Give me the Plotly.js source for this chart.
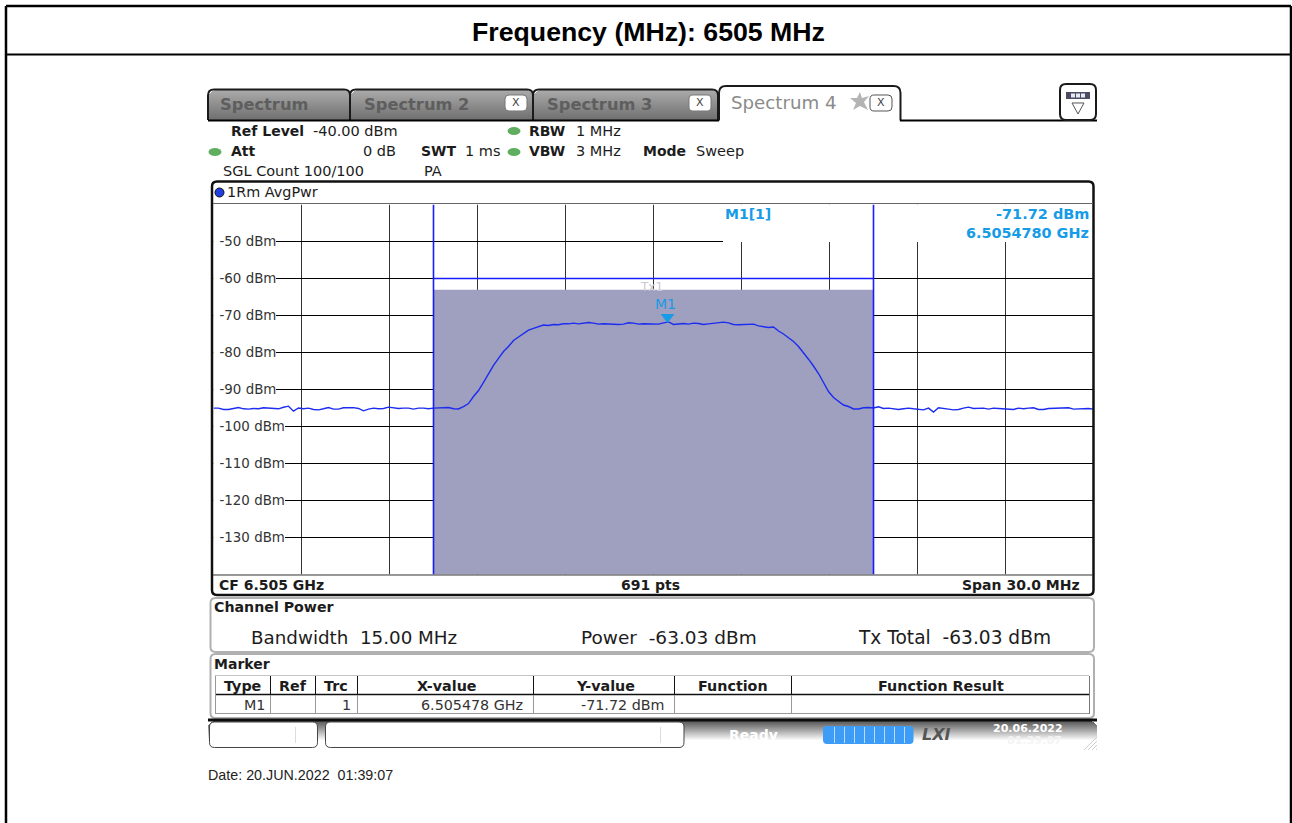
<!DOCTYPE html>
<html>
<head>
<meta charset="utf-8">
<script src="https://cdn.plot.ly/plotly-3.0.1.min.js"></script>
<style>html,body{margin:0;padding:0;background:#fff;overflow:hidden}#chart{width:1292px;height:823px}</style>
</head>
<body>
<div id="chart"></div>
<script>
// ---- Data ----
var centerMHz = 6505;
var spanMHz = 30;
var refLevel = -40;
var channelBandwidthMHz = 15;
var channelPowerDbm = -63.03;
var limitLineDbm = -60;
var markerFreqMHz = 6505.478;
var markerLevelDbm = -71.72;
var levelTicks = [-50, -60, -70, -80, -90, -100, -110, -120, -130];
var levelTickLabels = ['-50 dBm', '-60 dBm', '-70 dBm', '-80 dBm', '-90 dBm', '-100 dBm', '-110 dBm', '-120 dBm', '-130 dBm'];
var freqGridMHz = [6493, 6496, 6499, 6502, 6505, 6508, 6511, 6514, 6517];

var floorLeft = [-95.04,-95.04,-95.4,-95.4,-95.13,-94.86,-95.22,-95.3,-95.13,-95.22,-94.95,-95.04,-95.3,-95.22,-94.8,-94.5,-95.85,-95.0,-95.2,-95.04,-95.4,-95.5,-95.2,-94.86,-95.3,-95.3,-94.95,-94.95,-94.9,-95.13,-95.76,-95.3,-95.04,-95.22,-95.13,-94.77,-94.95,-95.13,-95.04,-95.04,-95.3,-95.04,-95.04,-95.22,-95.04];
var riseEdge = [-94.95,-94.9,-94.86,-95.2,-95.27,-94.6,-93.8,-91.9,-90.27,-88.1,-85.68,-83.5,-81.6,-79.73,-78.38,-76.76,-75.8,-74.86,-73.97,-73.5,-73.1,-72.57,-72.7,-72.43,-72.5];
var plateau = [-72.25,-72.25,-72.07,-72.25,-71.98,-71.9,-72.07,-72.34,-72.25,-72.34,-72.25,-72.43,-72.34,-71.98,-72.07,-72.34,-72.25,-72.34,-72.25,-72.34,-71.98,-71.72,-72.43,-72.34,-72.16,-72.34,-72.07,-72.16,-72.43,-72.25,-72.16,-72.07,-71.8,-71.98,-72.43,-72.5,-72.43,-72.25,-72.34,-72.8,-72.97];
var fallEdge = [-73.24,-73.1,-74.19,-75.0,-76.08,-77.03,-78.38,-80.0,-81.81,-83.65,-85.68,-88.1,-90.54,-92.16,-93.24,-94.19,-94.6,-95.27,-95.27,-94.92,-94.86,-95.0];
var floorRight = [-94.68,-95.13,-95.04,-95.22,-95.4,-95.22,-95.04,-95.22,-95.3,-95.5,-95.04,-96.1,-94.95,-95.22,-95.3,-95.5,-95.4,-95.04,-94.77,-95.13,-95.13,-95.04,-95.3,-95.04,-95.13,-95.22,-95.3,-95.4,-95.04,-95.22,-95.04,-94.95,-95.4,-95.4,-95.13,-95.04,-94.95,-94.95,-94.95,-95.3,-95.22,-95.13,-95.13,-95.3];

var tabNames = ['Spectrum', 'Spectrum 2', 'Spectrum 3', 'Spectrum 4'];
var tableHeaders = ['Type', 'Ref', 'Trc', 'X-value', 'Y-value', 'Function', 'Function Result'];
var tableRow = ['M1', '1', '6.505478 GHz', '-71.72 dBm'];

// ---- Geometry ----
var W = 1292, H = 823;
var plotL = 213.5, plotR = 1093.5, plotT = 204.5, plotB = 574.5;
var fMin = centerMHz - spanMHz / 2, fMax = centerMHz + spanMHz / 2;
var levels = floorLeft.concat(riseEdge, plateau, fallEdge, floorRight);
var freqs = levels.map(function (_, i) { return fMin + i * spanMHz / (levels.length - 1); });
function pxToF(px) { return fMin + (px - plotL) * spanMHz / (plotR - plotL); }
function pyToL(py) { return refLevel - (py - plotT) * 100 / (plotB - plotT); }
function X(p) { return +(p / W).toFixed(5); }
function Y(p) { return +(1 - p / H).toFixed(5); }

var shapes = [], notes = [];
var SANS = 'DejaVu Sans';
var ARIAL = 'Liberation Sans';
var INK = '#1c1c1c', CYAN = '#169be6';

function rect(x0, y0, x1, y1, fill, lineColor, lineW, layer) {
  shapes.push({type: 'rect', xref: 'paper', yref: 'paper', x0: X(x0), x1: X(x1), y0: Y(y0), y1: Y(y1),
    fillcolor: fill || 'rgba(0,0,0,0)', line: {color: lineColor || 'rgba(0,0,0,0)', width: lineW || 0}, layer: layer || 'above'});
}
function hv(x0, y0, x1, y1, color, w) {
  shapes.push({type: 'line', xref: 'paper', yref: 'paper', x0: X(x0), x1: X(x1), y0: Y(y0), y1: Y(y1),
    line: {color: color, width: w || 1}, layer: 'above'});
}
function rr(x0, y0, x1, y1, r, fill, color, w, bottomOpen) {
  var P = function (a, b) { return X(a) + ',' + Y(b); };
  var d;
  if (bottomOpen) {
    d = 'M' + P(x0, y1) + 'L' + P(x0, y0 + r) + 'Q' + P(x0, y0) + ' ' + P(x0 + r, y0) + 'L' + P(x1 - r, y0) + 'Q' + P(x1, y0) + ' ' + P(x1, y0 + r) + 'L' + P(x1, y1);
  } else {
    d = 'M' + P(x0 + r, y0) + 'L' + P(x1 - r, y0) + 'Q' + P(x1, y0) + ' ' + P(x1, y0 + r) + 'L' + P(x1, y1 - r) + 'Q' + P(x1, y1) + ' ' + P(x1 - r, y1) + 'L' + P(x0 + r, y1) + 'Q' + P(x0, y1) + ' ' + P(x0, y1 - r) + 'L' + P(x0, y0 + r) + 'Q' + P(x0, y0) + ' ' + P(x0 + r, y0) + 'Z';
  }
  shapes.push({type: 'path', xref: 'paper', yref: 'paper', path: d, fillcolor: fill || 'rgba(0,0,0,0)',
    line: {color: color || 'rgba(0,0,0,0)', width: w === undefined ? 1 : w}, layer: 'above'});
}
function grad(x0, y0, x1, y1, c0, c1) {
  var n = y1 - y0;
  for (var i = 0; i < n; i++) {
    var t = n > 1 ? i / (n - 1) : 0;
    var c = 'rgb(' + [0, 1, 2].map(function (k) { return Math.round(c0[k] + (c1[k] - c0[k]) * t); }).join(',') + ')';
    var inset = i === 0 ? 5 : i === 1 ? 3 : i === 2 ? 2 : i === 3 ? 1 : 0;
    rect(x0 + inset, y0 + i, x1 - inset, y0 + i + 1, c);
  }
}
function txt(s, x, y, anchor, size, opt) {
  opt = opt || {};
  var t = opt.bold ? '<b>' + s + '</b>' : s;
  if (opt.italic) t = '<i>' + t + '</i>';
  notes.push({text: t, xref: 'paper', yref: 'paper', x: X(x), y: Y(y),
    xanchor: anchor, yanchor: 'middle', showarrow: false, borderpad: 0,
    font: {family: opt.family || SANS, size: size, color: opt.color || INK}});
}

// ---- Page frame and heading ----
hv(6, 6, 1291, 6, '#000', 2.5);
hv(6, 6, 6, H, '#000', 2.5);
hv(1291, 6, 1291, H, '#000', 2.5);
hv(6, 54.5, 1291, 54.5, '#000', 2);
txt('Frequency (MHz): 6505 MHz', 649, 32, 'center', 26.7, {bold: true, family: ARIAL, color: '#000'});

// ---- Tabs ----
var tabEdges = [[208, 350], [350, 533], [533, 718]];
tabEdges.forEach(function (t, i) {
  grad(t[0] + 1, 90, t[1], 120, [170, 170, 170], [112, 112, 112]);
  rr(t[0], 89.5, t[1], 120, 6, null, '#1a1a1a', 2, true);
  txt(tabNames[i], t[0] + (i === 0 ? 11 : 13), 104, 'left', 16.3, {color: '#5e5e5e', bold: true});
});
hv(208, 120.5, 719, 120.5, '#000', 2);
rr(719, 86, 900.5, 120.5, 7, '#ffffff', '#1a1a1a', 2, true);
hv(900, 120.5, 1097, 120.5, '#000', 2);
txt(tabNames[3], 730, 103, 'left', 18.2, {color: '#8a8a8a'});
[[505, 527, 103], [689, 711, 103], [870, 892, 103]].forEach(function (b) {
  rr(b[0], b[2] - 8, b[1], b[2] + 8, 4, '#ffffff', b[0] === 870 ? '#555' : '#777', 1);
  txt('X', (b[0] + b[1]) / 2, b[2], 'center', 11, {color: '#444'});
});
shapes.push({type: 'path', xref: 'paper', yref: 'paper', layer: 'above', fillcolor: '#b4b4b4', line: {width: 0},
  path: (function () {
    var pts = [[860, 92], [862, 98], [869, 96], [864, 102], [868, 110], [860, 106], [853, 110], [856, 103], [850, 98], [857, 98]];
    return 'M' + pts.map(function (p) { return X(p[0]) + ',' + Y(p[1]); }).join('L') + 'Z';
  })()});
rr(1060, 84, 1096, 120, 6, '#ffffff', '#1a1a1a', 2);
rect(1066, 92, 1090, 99, '#4b4b63');
[1071, 1076, 1081].forEach(function (x) { rect(x, 93.5, x + 4, 97.5, '#e8e8f0'); });
shapes.push({type: 'path', xref: 'paper', yref: 'paper', layer: 'above', fillcolor: '#ffffff', line: {color: '#555', width: 1},
  path: 'M' + X(1072) + ',' + Y(103) + 'L' + X(1084) + ',' + Y(103) + 'L' + X(1078) + ',' + Y(114) + 'Z'});

// ---- Settings block ----
[[514, 131], [514, 152], [215, 152]].forEach(function (p) {
  shapes.push({type: 'circle', xref: 'paper', yref: 'paper', layer: 'above', x0: X(p[0] - 6.5), x1: X(p[0] + 6.5), y0: Y(p[1] - 4), y1: Y(p[1] + 4),
    fillcolor: '#5fae5f', line: {width: 0}});
});
txt('Ref Level', 230, 130.5, 'left', 14, {bold: true});
txt('-40.00 dBm', 312, 130.5, 'left', 14.5);
txt('RBW', 528, 130.5, 'left', 14, {bold: true});
txt('1 MHz', 575, 130.5, 'left', 14.5);
txt('Att', 230, 151, 'left', 14, {bold: true});
txt('0 dB', 397, 151, 'right', 14.5);
txt('SWT', 420, 151, 'left', 14, {bold: true});
txt('1 ms', 464, 151, 'left', 14.5);
txt('VBW', 528, 151, 'left', 14, {bold: true});
txt('3 MHz', 575, 151, 'left', 14.5);
txt('Mode', 642, 151, 'left', 14, {bold: true});
txt('Sweep', 695, 151, 'left', 14.5);
txt('SGL Count 100/100', 222, 170.5, 'left', 14.5);
txt('PA', 423, 170.5, 'left', 14.5);

// ---- Diagram frame ----
rr(212, 181.5, 1093.5, 595, 5, null, '#111', 2.5);
hv(213, 203.5, 1093, 203.5, '#666', 1);
hv(213, plotB + 0.5, 1093, plotB + 0.5, '#333', 1);
shapes.push({type: 'circle', xref: 'paper', yref: 'paper', layer: 'above', x0: X(215), x1: X(224), y0: Y(188), y1: Y(197), fillcolor: '#1f3fe0', line: {color: '#111', width: 1}});
txt('1Rm AvgPwr', 226, 192, 'left', 14.4);
txt('CF 6.505 GHz', 218, 584.5, 'left', 14, {bold: true});
txt('691 pts', 650, 584.5, 'center', 14, {bold: true});
txt('Span 30.0 MHz', 1081, 584.5, 'right', 14, {bold: true});

// Grid, then covers and channel area, all under the trace
function under(x0, x1, y0, y1, fill) {
  shapes.push({type: 'rect', xref: 'x', yref: 'y', layer: 'below', x0: x0, x1: x1, y0: y0, y1: y1, fillcolor: fill, line: {width: 0}});
}
freqGridMHz.forEach(function (f) {
  shapes.push({type: 'line', xref: 'x', yref: 'y', layer: 'below', x0: f, x1: f, y0: -140, y1: refLevel, line: {color: '#333333', width: 1}});
});
levelTicks.forEach(function (v) {
  shapes.push({type: 'line', xref: 'x', yref: 'y', layer: 'below', x0: fMin, x1: fMax, y0: v, y1: v, line: {color: '#000000', width: 1}});
});
var chL = centerMHz - channelBandwidthMHz / 2, chR = centerMHz + channelBandwidthMHz / 2;
under(chL, chR, channelPowerDbm, -140, '#9f9fbf');
under(pxToF(723), fMax, refLevel, pyToL(242), '#ffffff');
levelTicks.forEach(function (v, i) {
  var wide = levelTickLabels[i].length > 7;
  under(fMin, pxToF(wide ? 285 : 276), v - 1.8, v + 1.8, '#ffffff');
});
function blue(x0, x1, y0, y1, w) {
  shapes.push({type: 'line', xref: 'x', yref: 'y', layer: 'above', x0: x0, x1: x1, y0: y0, y1: y1, line: {color: '#1a1aff', width: w}});
}
blue(chL, chL, refLevel, -140, 1.6);
blue(chR, chR, refLevel, -140, 1.6);
blue(chL, chR, limitLineDbm, limitLineDbm, 1.6);

txt('M1[1]', 724, 214, 'left', 14, {bold: true, color: CYAN});
txt('-71.72 dBm', 1090, 214, 'right', 14.5, {bold: true, color: CYAN});
txt('6.5054780 GHz', 1090, 233, 'right', 14.4, {bold: true, color: CYAN});
txt('Tx1', 652, 287.5, 'center', 12, {color: '#c8c8d4'});
txt('M1', 665.5, 304, 'center', 14, {color: CYAN});

// ---- Channel power panel ----
rr(210.5, 598, 1094, 652, 5, '#ffffff', '#b0b0b0', 2);
txt('Channel Power', 213, 607.5, 'left', 14.2, {bold: true});
txt('Bandwidth  15.00 MHz', 250, 637, 'left', 18.3);
txt('Power  -63.03 dBm', 580, 637, 'left', 18.5);
txt('Tx Total  -63.03 dBm', 857, 637, 'left', 18.6);

// ---- Marker panel ----
rr(210.5, 654, 1094, 718, 5, '#ffffff', '#b0b0b0', 2);
txt('Marker', 213, 664.5, 'left', 14, {bold: true});
hv(215, 675.5, 1089, 675.5, '#c4c4c4', 1);
hv(215, 694.5, 1089, 694.5, '#111', 1.5);
hv(215, 713.5, 1089, 713.5, '#999', 1);
hv(215.5, 676, 215.5, 714, '#999', 1);
hv(1089.5, 676, 1089.5, 714, '#777', 1);
var colEdges = [270.5, 315.5, 357.5, 533.5, 674.5, 791.5];
colEdges.forEach(function (x) {
  hv(x, 676, x, 694, '#111', 1);
  hv(x, 695, x, 713, '#999', 1);
});
var headCenters = [243, 293, 336, 447, 605, 733, 941];
tableHeaders.forEach(function (h, i) { txt(h, headCenters[i], 686, 'center', 14.3, {bold: true}); });
txt(tableRow[0], 266, 705, 'right', 14.3, {color: '#333'});
txt(tableRow[1], 352, 705, 'right', 14.3, {color: '#333'});
txt(tableRow[2], 524, 705, 'right', 14.3, {color: '#333'});
txt(tableRow[3], 665, 705, 'right', 14.3, {color: '#333'});

// ---- Status bar ----
grad(208, 721, 1097, 741, [90, 90, 90], [255, 255, 255]);
hv(208, 720, 1097, 720, '#0c0c0c', 3);
rr(209.5, 722, 317.5, 747.5, 5, '#ffffff', '#444', 1);
hv(295.5, 727, 295.5, 743, '#dcdcdc', 1);
rr(325.5, 722, 684, 747.5, 5, '#ffffff', '#444', 1);
hv(660.5, 727, 660.5, 743, '#dcdcdc', 1);
txt('Ready', 754, 735, 'center', 14, {bold: true, color: '#ffffff'});
rr(823, 726, 913.5, 744, 4, '#3d9cf5', null, 0);
[834, 844, 854, 864, 874, 884, 894, 904].forEach(function (x) { hv(x + 0.5, 727, x + 0.5, 743, '#bcdcff', 1); });
txt('LXI', 936, 735, 'center', 16, {bold: true, italic: true, color: '#555555'});
txt('20.06.2022', 1028, 729, 'center', 11, {bold: true, color: '#ffffff'});
txt('01:39:07', 1034, 741, 'center', 11, {bold: true, color: '#f4f4f4'});
[0, 4, 8, 12].forEach(function (d) { hv(1097, 737 + d, 1084 + d, 750, '#cfcfcf', 1); });

txt('Date: 20.JUN.2022  01:39:07', 206.5, 775.5, 'left', 14.3, {family: ARIAL, color: '#222'});

// ---- Figure ----
var traces = [
  {type: 'scatter', mode: 'lines', x: freqs, y: levels, line: {color: '#1c2cf0', width: 1.4}, hoverinfo: 'skip', showlegend: false},
  {type: 'scatter', mode: 'markers', x: [markerFreqMHz], y: [markerLevelDbm + 1.3], hoverinfo: 'skip', showlegend: false,
    marker: {symbol: 'triangle-down', size: 12, color: CYAN, line: {width: 0}}}
];
var layout = {
  width: W, height: H, autosize: false,
  margin: {l: 0, r: 0, t: 0, b: 0, pad: 0},
  paper_bgcolor: '#ffffff', plot_bgcolor: '#ffffff', showlegend: false,
  xaxis: {domain: [plotL / W, plotR / W], range: [fMin, fMax], showgrid: false,
    zeroline: false, showline: false, ticks: '', showticklabels: false, fixedrange: true},
  yaxis: {domain: [1 - plotB / H, 1 - plotT / H], range: [-140, -40], tickmode: 'array', tickvals: levelTicks, ticktext: levelTickLabels,
    showgrid: false, zeroline: false, showline: false, ticks: '', ticklabelposition: 'inside', ticklabelstandoff: 3,
    tickfont: {family: SANS, size: 13.4, color: '#333'}, fixedrange: true},
  shapes: shapes, annotations: notes
};
Plotly.newPlot('chart', traces, layout, {displayModeBar: false, staticPlot: true});
</script>
</body>
</html>
